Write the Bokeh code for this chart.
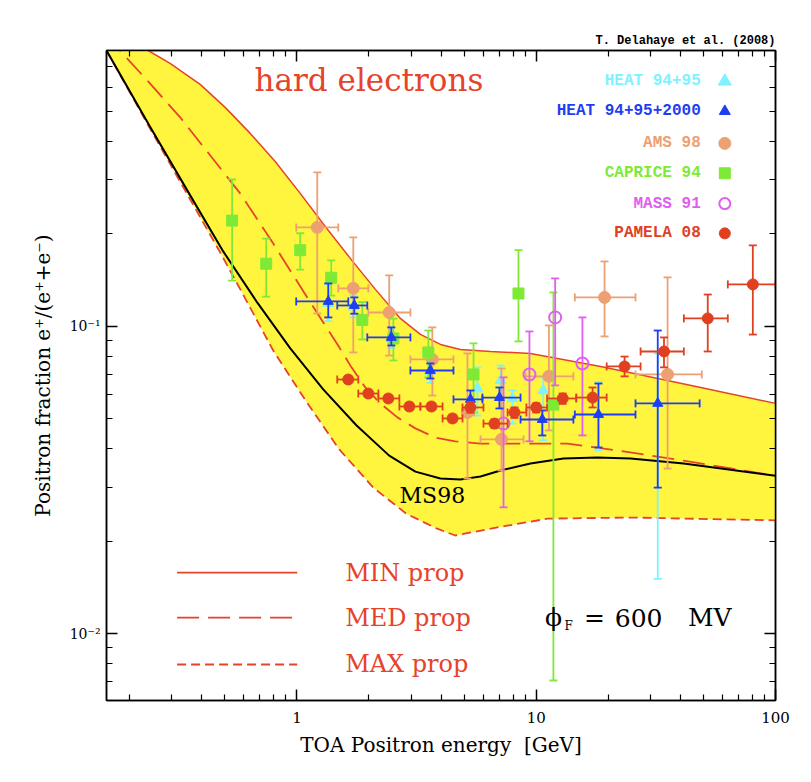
import math
from bokeh.plotting import figure
from bokeh.models import Range1d, LogAxis, FixedTicker, Label
from bokeh.embed import file_html
from bokeh.resources import INLINE

# ---------------- data ----------------
# propagation model curves (positron fraction vs energy in GeV)
min_x = [0.16, 0.239, 0.295, 0.394, 0.501, 0.638, 0.811, 1.032, 1.313, 1.671, 2.127, 2.705, 3.28, 3.98, 4.82, 6.44, 9.46, 18.6, 48.7, 100]
min_y = [0.93, 0.79, 0.717, 0.613, 0.516, 0.4246, 0.344, 0.271, 0.2115, 0.1665, 0.132, 0.1062, 0.0942, 0.0874, 0.0842, 0.0829, 0.0817, 0.0741, 0.0633, 0.0562]

med_x = [0.16, 0.182, 0.243, 0.325, 0.421, 0.579, 0.796, 1.104, 1.503, 1.671, 1.931, 2.23, 2.63, 3.126, 3.786, 4.59, 5.85, 9.46, 13.5, 21.9, 41.3, 100]
med_y = [0.89, 0.79, 0.6177, 0.479, 0.371, 0.271, 0.186, 0.1243, 0.0855, 0.0747, 0.0633, 0.0562, 0.0506, 0.0466, 0.0435, 0.0423, 0.0416, 0.0416, 0.0416, 0.0395, 0.0366, 0.0327]

max_x = [0.16, 0.243, 0.358, 0.4777, 0.614, 0.796, 1.094, 1.503, 2.085, 2.865, 3.83, 4.59, 6.89, 11.15, 24.8, 100]
max_y = [0.79, 0.4408, 0.2589, 0.1741, 0.1216, 0.0835, 0.0570, 0.0398, 0.0299, 0.0246, 0.02203, 0.02089, 0.0222, 0.0237, 0.0239, 0.0234]

ms98_x = [0.16, 0.243, 0.358, 0.492, 0.682, 0.938, 1.288, 1.771, 2.43, 3.126, 3.98, 4.82, 5.85, 7.09, 9.46, 13.0, 18.0, 24.8, 41.3, 100]
ms98_y = [0.79, 0.4475, 0.2669, 0.1754, 0.1197, 0.0848, 0.0624, 0.0477, 0.0380, 0.0337, 0.0320, 0.0318, 0.0325, 0.0340, 0.0358, 0.0372, 0.0375, 0.0372, 0.0358, 0.0327]

# HEAT 94+95
heat1_x = [1.35, 1.72, 2.48, 3.61, 5.68, 7.1, 7.96, 10.7, 18.2, 32.2]
heat1_y = [0.119, 0.116, 0.0915, 0.0715, 0.0628, 0.0667, 0.0583, 0.0619, 0.0517, 0.0562]
heat1_lo = [0.104, 0.107, 0.085, 0.0655, 0.0513, 0.0596, 0.0483, 0.0426, 0.0395, 0.0151]
heat1_hi = [0.137, 0.126, 0.099, 0.078, 0.0736, 0.0746, 0.0619, 0.0683, 0.066, 0.0817]

# HEAT 94+95+2000
heat2_x = [1.352, 1.737, 2.48, 3.61, 5.31, 7.02, 10.6, 18.2, 32.2]
heat2_xlo = [0.993, 1.474, 1.968, 2.98, 4.51, 5.96, 8.60, 14.5, 26.0]
heat2_xhi = [1.639, 1.968, 2.98, 4.51, 5.96, 8.60, 14.3, 26.0, 48.2]
heat2_y = [0.1206, 0.117, 0.0921, 0.0719, 0.0579, 0.0587, 0.0498, 0.0517, 0.0562]
heat2_lo = [0.107, 0.110, 0.0867, 0.0677, 0.0533, 0.0541, 0.0442, 0.0404, 0.0299]
heat2_hi = [0.138, 0.1243, 0.0993, 0.0758, 0.0619, 0.0633, 0.0533, 0.0652, 0.097]

# AMS 98
ams_x = [1.216, 1.72, 2.43, 3.68, 5.16, 7.16, 11.3, 19.3, 35.4]
ams_xlo = [0.993, 1.489, 1.988, 2.98, 4.9, 5.85, 9.02, 14.5, 26.0]
ams_xhi = [1.489, 1.988, 2.98, 4.51, 5.5, 8.85, 14.3, 26.0, 49.2]
ams_y = [0.210, 0.133, 0.111, 0.0781, 0.0525, 0.0429, 0.0688, 0.1243, 0.0698]
ams_lo = [0.1102, 0.0823, 0.0804, 0.0596, 0.032, 0.034, 0.0459, 0.0928, 0.0345]
ams_hi = [0.317, 0.195, 0.1466, 0.0993, 0.0817, 0.073, 0.1008, 0.1627, 0.1444]

# CAPRICE 94
cap_x = [0.536, 0.744, 1.032, 1.391, 1.876, 2.53, 3.54, 5.47, 8.43, 11.8]
cap_y = [0.221, 0.160, 0.177, 0.144, 0.105, 0.0914, 0.0823, 0.0698, 0.128, 0.0557]
cap_lo = [0.141, 0.125, 0.153, 0.126, 0.0907, 0.0775, 0.0682, 0.0525, 0.0894, 0.00705]
cap_hi = [0.301, 0.193, 0.201, 0.164, 0.120, 0.106, 0.097, 0.0881, 0.177, 0.129]

# MASS 91
mass_x = [7.30, 9.37, 12.0, 15.6]
mass_y = [0.0483, 0.0698, 0.107, 0.0758]
mass_lo = [0.0258, 0.0423, 0.0643, 0.0442]
mass_hi = [0.0683, 0.0963, 0.1433, 0.107]

# PAMELA 08
pam_x = [1.639, 1.988, 2.41, 2.95, 3.65, 4.47, 5.31, 6.69, 8.11, 10.0, 12.9, 17.2, 23.4, 34.2, 52.1, 80.4]
pam_xlo = [1.474, 1.805, 2.19, 2.68, 3.28, 4.06, 4.92, 6.02, 7.59, 9.10, 11.1, 14.7, 19.7, 27.3, 41.4, 63.2]
pam_xhi = [1.805, 2.19, 2.68, 3.28, 4.06, 4.92, 6.02, 7.59, 9.10, 11.1, 14.7, 19.7, 27.3, 41.4, 63.2, 100]
pam_y = [0.0672, 0.0605, 0.0583, 0.0549, 0.0549, 0.0502, 0.0545, 0.0483, 0.0525, 0.0545, 0.0583, 0.0587, 0.0741, 0.0829, 0.1062, 0.137]
pam_lo = [0.0655, 0.0590, 0.0568, 0.0535, 0.0535, 0.0488, 0.0524, 0.0468, 0.0504, 0.0525, 0.0560, 0.0545, 0.0688, 0.0736, 0.0829, 0.0941]
pam_hi = [0.0690, 0.0620, 0.0598, 0.0563, 0.0563, 0.0516, 0.0568, 0.0498, 0.0545, 0.0562, 0.0605, 0.0633, 0.0798, 0.0921, 0.127, 0.1835]

legend_names = ["HEAT 94+95", "HEAT 94+95+2000", "AMS 98", "CAPRICE 94", "MASS 91", "PAMELA 08"]
x_ticks = [1, 10, 100]
x_minor = [0.2, 0.3, 0.4, 0.5, 0.6, 0.7, 0.8, 0.9, 2, 3, 4, 5, 6, 7, 8, 9, 20, 30, 40, 50, 60, 70, 80, 90]
y_ticks = [0.01, 0.1]
y_minor = [0.007, 0.008, 0.009, 0.02, 0.03, 0.04, 0.05, 0.06, 0.07, 0.08, 0.09, 0.2, 0.3, 0.4, 0.5, 0.6, 0.7]

# ---------------- style ----------------
RED = "#E6432B"
YELLOW = "#FFF53F"
CYAN = "#7EF2FF"
BLUE = "#1F3DF2"
SALMON = "#EDA072"
GREEN = "#7EEA36"
MAGENTA = "#E05FF0"
PRED = "#E0401F"
SERIF = "DejaVu Serif"
MONO = "Liberation Mono"

p = figure(width=795, height=766, x_axis_type="log", y_axis_type="log",
           x_range=Range1d(0.16, 100), y_range=Range1d(0.00607, 0.79),
           output_backend="svg", toolbar_location=None,
           min_border_left=106, min_border_right=20, min_border_top=50, min_border_bottom=66)
p.xgrid.visible = False
p.ygrid.visible = False
p.outline_line_color = "black"
p.outline_line_width = 1.5
p.background_fill_color = "white"
p.border_fill_color = "white"

p.title.text = "T. Delahaye et al. (2008)"
p.title.align = "right"
p.title.text_font = MONO
p.title.text_font_size = "12px"
p.title.text_font_style = "bold"
p.title.text_color = "black"
p.title.standoff = 6

xt = FixedTicker(ticks=x_ticks, minor_ticks=x_minor)
yt = FixedTicker(ticks=y_ticks, minor_ticks=y_minor)

def style_axis(ax, show_labels=True):
    ax.axis_line_color = "black"
    ax.axis_line_width = 1.5
    ax.major_tick_in = 11
    ax.major_tick_out = 0
    ax.minor_tick_in = 6
    ax.minor_tick_out = 0
    ax.major_tick_line_width = 1.5
    ax.minor_tick_line_width = 1.2
    ax.major_tick_line_color = "black"
    ax.minor_tick_line_color = "black"
    ax.major_label_text_color = "black"
    ax.axis_label_text_color = "black"
    if not show_labels:
        ax.major_label_text_font_size = "1px"
        ax.major_label_text_color = None
        ax.major_label_standoff = 0

xa = p.xaxis[0]
xa.ticker = xt
xa.major_label_overrides = {1: "1", 10: "10", 100: "100"}
xa.major_label_text_font = SERIF
xa.major_label_text_font_size = "15px"
xa.major_label_standoff = 11
xa.axis_label = "TOA Positron energy\u00a0\u00a0[GeV]"
xa.axis_label_text_font = SERIF
xa.axis_label_text_font_size = "20px"
xa.axis_label_text_font_style = "normal"
xa.axis_label_standoff = 7
style_axis(xa)

ya = p.yaxis[0]
ya.ticker = yt
ya.major_label_overrides = {0.01: "10\u207b\u00b2", 0.1: "10\u207b\u00b9"}
ya.major_label_text_font = SERIF
ya.major_label_text_font_size = "14px"
ya.major_label_standoff = 6
ya.axis_label = "Positron fraction e\u207a/(e\u207a+e\u207b)"
ya.axis_label_text_font = SERIF
ya.axis_label_text_font_size = "20px"
ya.axis_label_text_font_style = "normal"
ya.axis_label_standoff = 12
style_axis(ya)

top = LogAxis(ticker=xt)
style_axis(top, False)
p.add_layout(top, "above")
right = LogAxis(ticker=yt)
style_axis(right, False)
p.add_layout(right, "right")

# ---------------- curves ----------------
p.patch(x=min_x + max_x[::-1], y=min_y + max_y[::-1], fill_color=YELLOW, line_color=None)
p.line(min_x, min_y, line_color=RED, line_width=1.5)
p.line(med_x, med_y, line_color=RED, line_width=1.8, line_dash="22 9")
p.line(max_x, max_y, line_color=RED, line_width=1.8, line_dash="9 5")
p.line(ms98_x, ms98_y, line_color="black", line_width=2)

# ---------------- data points ----------------
def draw(x, y, lo, hi, color, marker, size, xlo=None, xhi=None, fill=True):
    p.segment(x0=x, y0=lo, x1=x, y1=hi, line_color=color, line_width=1.8)
    p.scatter(x=x + x, y=lo + hi, marker="dash", size=8, line_color=color, line_width=1.8)
    if xlo is not None:
        p.segment(x0=xlo, y0=y, x1=xhi, y1=y, line_color=color, line_width=1.8)
        p.scatter(x=xlo + xhi, y=y + y, marker="dash", angle=math.pi / 2, size=8,
                  line_color=color, line_width=1.8)
    if fill:
        p.scatter(x=x, y=y, marker=marker, size=size, fill_color=color, line_color=color)
    else:
        p.scatter(x=x, y=y, marker=marker, size=size, fill_color=None, line_color=color, line_width=2)

draw(heat1_x, heat1_y, heat1_lo, heat1_hi, CYAN, "triangle", 11)
draw(ams_x, ams_y, ams_lo, ams_hi, SALMON, "circle", 12, ams_xlo, ams_xhi)
draw(cap_x, cap_y, cap_lo, cap_hi, GREEN, "square", 11)
draw(mass_x, mass_y, mass_lo, mass_hi, MAGENTA, "circle", 12, fill=False)
draw(heat2_x, heat2_y, heat2_lo, heat2_hi, BLUE, "triangle", 10, heat2_xlo, heat2_xhi)
draw(pam_x, pam_y, pam_lo, pam_hi, PRED, "circle", 11, pam_xlo, pam_xhi)

# ---------------- annotations ----------------
p.add_layout(Label(x=2.0, y=0.632, text="hard electrons", text_font=SERIF, text_font_size="31px",
                   text_color=RED, text_align="center", text_baseline="middle"))

leg_y = [0.627, 0.501, 0.394, 0.315, 0.251, 0.2008]
leg_colors = [CYAN, BLUE, SALMON, GREEN, MAGENTA, PRED]
for name, yy, c in zip(legend_names, leg_y, leg_colors):
    p.add_layout(Label(x=48.7, y=yy, text=name, text_font=MONO, text_font_size="16px",
                       text_font_style="bold", text_color=c, text_align="right",
                       text_baseline="middle"))
p.scatter(x=[61.4], y=[leg_y[0]], marker="triangle", size=13, fill_color=CYAN, line_color=CYAN)
p.scatter(x=[61.4], y=[leg_y[1]], marker="triangle", size=11, fill_color=BLUE, line_color=BLUE)
p.scatter(x=[61.4], y=[leg_y[2]], marker="circle", size=12, fill_color=SALMON, line_color=SALMON)
p.scatter(x=[61.4], y=[leg_y[3]], marker="square", size=11, fill_color=GREEN, line_color=GREEN)
p.scatter(x=[61.4], y=[leg_y[4]], marker="circle", size=11, fill_color=None, line_color=MAGENTA, line_width=2)
p.scatter(x=[61.4], y=[leg_y[5]], marker="circle", size=11, fill_color=PRED, line_color=PRED)

# bottom-left line legend
prop_y = [0.01583, 0.0113, 0.00795]
prop_names = ["MIN prop", "MED prop", "MAX prop"]
prop_dash = ["solid", "22 9", "9 5"]
for yy, nm, ds in zip(prop_y, prop_names, prop_dash):
    p.line([0.3156, 1.003], [yy, yy], line_color=RED, line_width=1.8, line_dash=ds)
    p.add_layout(Label(x=1.59, y=yy, text=nm, text_font=SERIF, text_font_size="24px",
                       text_color=RED, text_align="left", text_baseline="middle"))

p.add_layout(Label(x=3.68, y=0.0282, text="MS98", text_font=SERIF, text_font_size="22px",
                   text_color="black", text_align="center", text_baseline="middle"))

p.add_layout(Label(x=11.8, y=0.0113, text="\u03d5", text_font=SERIF, text_font_size="25px",
                   text_color="black", text_align="center", text_baseline="middle"))
p.add_layout(Label(x=13.65, y=0.01064, text="F", text_font=SERIF, text_font_size="12px",
                   text_color="black", text_align="center", text_baseline="middle"))
p.add_layout(Label(x=17.5, y=0.0113, text="=", text_font=SERIF, text_font_size="25px",
                   text_color="black", text_align="center", text_baseline="middle"))
p.add_layout(Label(x=26.8, y=0.0113, text="600", text_font=SERIF, text_font_size="25px",
                   text_color="black", text_align="center", text_baseline="middle"))
p.add_layout(Label(x=53.1, y=0.0113, text="MV", text_font=SERIF, text_font_size="25px",
                   text_color="black", text_align="center", text_baseline="middle"))

open("out.html", "w").write(file_html(p, INLINE))
